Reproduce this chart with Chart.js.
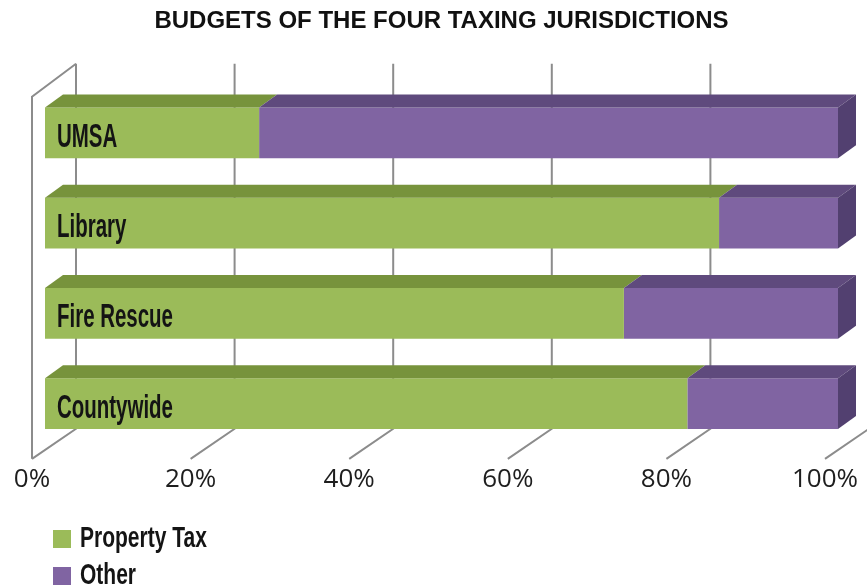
<!DOCTYPE html>
<html>
<head>
<meta charset="utf-8">
<title>Budgets of the Four Taxing Jurisdictions</title>
<script src="https://cdn.jsdelivr.net/npm/chart.js@4.4.1/dist/chart.umd.min.js"></script>
<style>
  html, body { margin: 0; padding: 0; background: #fff; }
  #wrap { width: 867px; height: 588px; }
</style>
</head>
<body>
<div id="wrap"><canvas id="budgetChart" width="867" height="588"></canvas></div>
<script>
const jurisdictions = ['UMSA', 'Library', 'Fire Rescue', 'Countywide'];
const propertyTax = [27, 85, 73, 81];
const other = [73, 15, 27, 19];
const percentTicks = [0, 20, 40, 60, 80, 100];

const greenFront = '#9bbb59', greenTop = '#77933c';
const purpleFront = '#8064a2', purpleTop = '#5f4a7d', purpleSide = '#524070';
const wallColor = '#8c8c8c';

// bar depth for the fake 3D look
const depthX = 18, depthY = -13;

function squeezedText(ctx, text, x, y, size, squeeze) {
    ctx.save();
    ctx.font = `bold ${size}px "Liberation Sans", Arial, sans-serif`;
    ctx.textBaseline = 'alphabetic';
    ctx.textAlign = 'left';
    ctx.translate(x, y);
    ctx.scale(squeeze, 1);
    ctx.fillText(text, 0, 0);
    ctx.restore();
}

const boxBars = {
    id: 'boxBars',
    beforeDatasetsDraw(chart) {
        // back wall gridlines and the floor lines running to the tick labels
        const {ctx, chartArea, scales: {x}} = chart;
        const wallTop = chartArea.top - 24;
        const floorBack = chartArea.bottom - 20;
        const floorFront = chartArea.bottom + 10;
        ctx.save();
        ctx.strokeStyle = wallColor;
        ctx.lineWidth = 2;
        percentTicks.forEach(v => {
            const bx = x.getPixelForValue(v) + 31;
            ctx.beginPath();
            ctx.moveTo(bx, wallTop);
            ctx.lineTo(bx, floorBack);
            ctx.lineTo(bx - 44, floorFront);
            ctx.stroke();
        });
        // left side wall
        const fx = x.getPixelForValue(0) - 13;
        ctx.beginPath();
        ctx.moveTo(fx + 44, wallTop);
        ctx.lineTo(fx, wallTop + 33);
        ctx.lineTo(fx, floorFront);
        ctx.stroke();
        ctx.restore();
    },
    afterDatasetsDraw(chart) {
        const {ctx} = chart;
        const last = chart.data.datasets.length - 1;
        ctx.save();
        chart.data.datasets.forEach((ds, i) => {
            chart.getDatasetMeta(i).data.forEach(bar => {
                const {x, base, y, height} = bar.getProps(['x', 'base', 'y', 'height'], true);
                const top = y - height / 2, bottom = y + height / 2;
                ctx.fillStyle = ds.topColor;
                ctx.beginPath();
                ctx.moveTo(base, top);
                ctx.lineTo(x, top);
                ctx.lineTo(x + depthX, top + depthY);
                ctx.lineTo(base + depthX, top + depthY);
                ctx.closePath();
                ctx.fill();
                if (i === last) {
                    ctx.fillStyle = ds.sideColor;
                    ctx.beginPath();
                    ctx.moveTo(x, top);
                    ctx.lineTo(x + depthX, top + depthY);
                    ctx.lineTo(x + depthX, bottom + depthY);
                    ctx.lineTo(x, bottom);
                    ctx.closePath();
                    ctx.fill();
                }
            });
        });

        // category names sit inside the bars
        const {chartArea, scales: {y}} = chart;
        ctx.fillStyle = '#141414';
        jurisdictions.forEach((name, i) => {
            squeezedText(ctx, name, chartArea.left + 12, y.getPixelForValue(i) + 14, 33, 0.62);
        });
        ctx.restore();
    },
    afterDraw(chart) {
        // legend stacked in the lower left corner
        const {ctx} = chart;
        ctx.save();
        chart.data.datasets.forEach((ds, i) => {
            const rowY = 530 + i * 37;
            ctx.fillStyle = ds.backgroundColor;
            ctx.fillRect(53, rowY, 18, 18);
            ctx.fillStyle = '#141414';
            squeezedText(ctx, ds.label, 80, rowY + 17, 30, 0.7);
        });
        ctx.restore();
    }
};

new Chart(document.getElementById('budgetChart'), {
    type: 'bar',
    data: {
        labels: jurisdictions,
        datasets: [
            { label: 'Property Tax', data: propertyTax, backgroundColor: greenFront, topColor: greenTop },
            { label: 'Other', data: other, backgroundColor: purpleFront, topColor: purpleTop, sideColor: purpleSide }
        ]
    },
    options: {
        indexAxis: 'y',
        responsive: false,
        animation: false,
        barPercentage: 0.563,
        categoryPercentage: 1.0,
        layout: { padding: { left: 45, right: 29, top: 0, bottom: 78 } },
        plugins: {
            legend: { display: false },
            tooltip: { enabled: false },
            title: {
                display: true,
                text: 'BUDGETS OF THE FOUR TAXING JURISDICTIONS',
                color: '#111',
                font: { family: '"Liberation Sans", Arial, sans-serif', size: 24, weight: 'bold' },
                padding: { top: 7, bottom: 52 }
            }
        },
        scales: {
            x: {
                stacked: true,
                min: 0,
                max: 100,
                grid: { display: false, drawTicks: false },
                border: { display: false },
                ticks: {
                    stepSize: 20,
                    padding: 15,
                    labelOffset: -13,
                    color: '#1e1e1e',
                    font: { family: '"Open Sans", sans-serif', size: 26 },
                    callback: v => v + '%'
                },
                afterFit(scale) {
                    scale.paddingLeft = 0;
                    scale.paddingRight = 0;
                }
            },
            y: {
                stacked: true,
                display: false
            }
        }
    },
    plugins: [boxBars]
});
</script>
</body>
</html>
